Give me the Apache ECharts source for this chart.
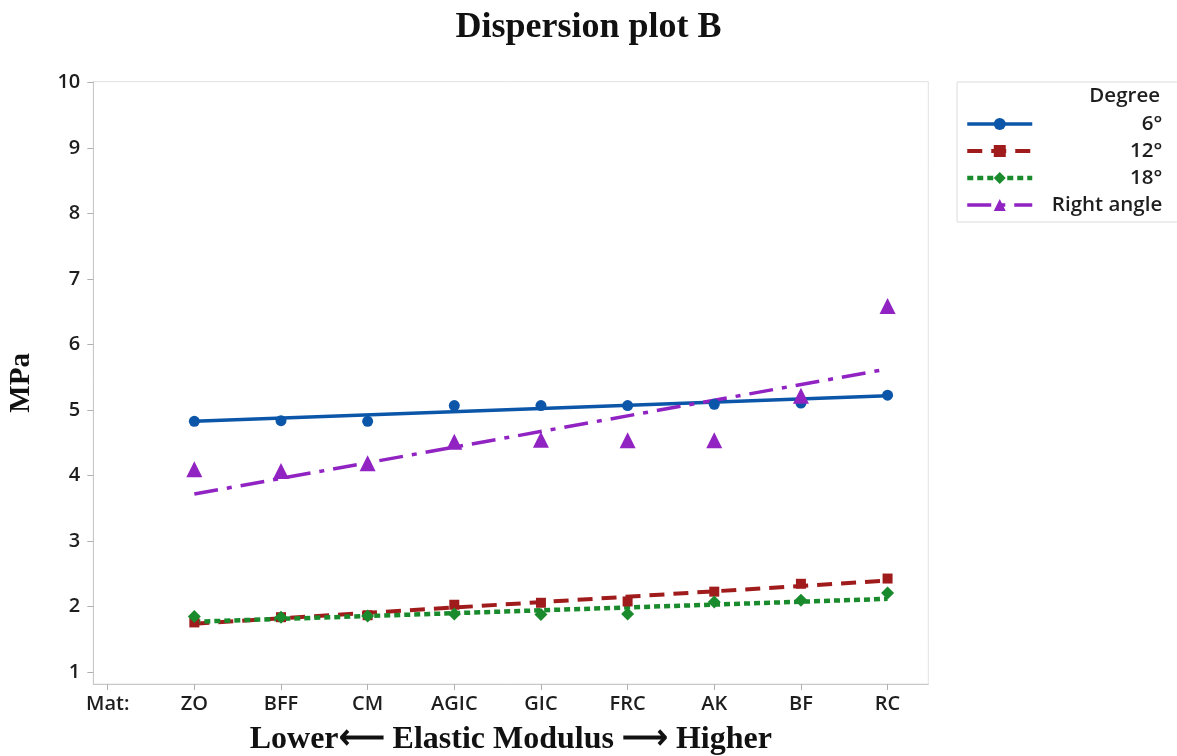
<!DOCTYPE html>
<html>
<head>
<meta charset="utf-8">
<script src="https://cdn.jsdelivr.net/npm/echarts@6/dist/echarts.min.js"></script>
<style>
html,body{margin:0;padding:0;background:#fff;}
#chart{width:1177px;height:756px;}
</style>
</head>
<body>
<div id="chart"></div>
<script>
// ---- data ----
var xLabels = ['Mat:', 'ZO', 'BFF', 'CM', 'AGIC', 'GIC', 'FRC', 'AK', 'BF', 'RC'];
var materials = ['ZO', 'BFF', 'CM', 'AGIC', 'GIC', 'FRC', 'AK', 'BF', 'RC'];
var yTicks = [1, 2, 3, 4, 5, 6, 7, 8, 9, 10];
var seriesNames = ['6°', '12°', '18°', 'Right angle'];
var deg6  = [4.83, 4.84, 4.83, 5.07, 5.07, 5.07, 5.09, 5.11, 5.23];
var deg12 = [1.76, 1.84, 1.87, 2.03, 2.06, 2.08, 2.23, 2.35, 2.43];
var deg18 = [1.85, 1.84, 1.86, 1.89, 1.88, 1.89, 2.07, 2.10, 2.21];
var right = [4.10, 4.07, 4.19, 4.52, 4.55, 4.54, 4.54, 5.22, 6.59];
// fitted lines: value at first (ZO) and last (RC) material
var fit6  = [4.83, 5.22];
var fit12 = [1.74, 2.40];
var fit18 = [1.77, 2.12];
var fitRight = [3.72, 5.63];

// ---- build ----
function pts(arr) {
  return arr.map(function (v, i) { return [xLabels.indexOf(materials[i]), v]; });
}
function fitPts(f) {
  return [[xLabels.indexOf(materials[0]), f[0]], [xLabels.indexOf(materials[materials.length - 1]), f[1]]];
}
var colors = ['#0b56a8', '#a01b1b', '#1a8b2c', '#9123c2'];
var symbols = ['circle', 'rect', 'diamond', 'triangle'];
var symSizes = [11, 10, 13, 16];
var lineTypes = ['solid', [15, 9], [6, 4], [24, 9, 5, 9]];
var lineWidths = [3.5, 4, 4.5, 3.5];
var pointSets = [deg6, deg12, deg18, right];
var fits = [fit6, fit12, fit18, fitRight];

var series = [];
seriesNames.forEach(function (name, k) {
  series.push({
    name: name,
    type: 'line',
    data: fitPts(fits[k]),
    showSymbol: false,
    symbol: symbols[k],
    color: colors[k],
    lineStyle: { color: colors[k], width: lineWidths[k], type: lineTypes[k] },
    itemStyle: { color: colors[k] },
    z: 2,
    silent: true
  });
  series.push({
    name: name + ' pts',
    type: 'scatter',
    data: pts(pointSets[k]),
    symbol: symbols[k],
    symbolSize: symSizes[k],
    itemStyle: { color: colors[k], opacity: 1 },
    z: 3
  });
});

var tickFont = { fontFamily: 'Open Sans', fontWeight: 600, fontSize: 20, color: '#1e1e1e' };

var chart = echarts.init(document.getElementById('chart'));
chart.setOption({
  backgroundColor: '#fff',
  animation: false,
  title: {
    text: 'Dispersion plot B',
    left: 'center',
    top: 5,
    textStyle: { fontFamily: 'Liberation Serif', fontWeight: 'bold', fontSize: 36, color: '#111' }
  },
  grid: {
    left: 93.3, right: 248.7, top: 81.7, bottom: 72,
    show: true, borderColor: '#e2e2e2', borderWidth: 1,
    containLabel: false, outerBoundsMode: 'none'
  },
  legend: {
    data: seriesNames,
    orient: 'vertical',
    left: 957, top: 82,
    padding: [31, 20, 6, 8],
    itemWidth: 65, itemHeight: 15, itemGap: 5,
    borderColor: '#dcdcdc', borderWidth: 1,
    selectedMode: false,
    lineStyle: { width: 'inherit' },
    formatter: function (n) { return '{a|' + n + '}'; },
    textStyle: {
      fontFamily: 'Open Sans', fontSize: 20.5, color: '#1e1e1e', lineHeight: 22,
      rich: { a: { width: 125, align: 'right', fontFamily: 'Open Sans', fontWeight: 600, fontSize: 20.5, lineHeight: 22, color: '#1e1e1e' } }
    }
  },
  graphic: [{
    type: 'text', right: 17, top: 86,
    style: { text: 'Degree', fontFamily: 'Open Sans', fontWeight: 600, fontSize: 20.5, fill: '#1e1e1e' }
  }],
  xAxis: {
    type: 'value',
    min: -0.166, max: 9.47,
    name: 'Lower\u27F5 Elastic Modulus \u27F6 Higher',
    nameLocation: 'middle',
    nameGap: 40,
    nameTextStyle: { fontFamily: 'Liberation Serif', fontWeight: 'bold', fontSize: 32, color: '#111' },
    splitLine: { show: false },
    axisLine: { show: true, onZero: false, lineStyle: { color: '#c8c8c8' } },
    axisTick: { show: true, length: 6, lineStyle: { color: '#b0b0b0' }, customValues: xLabels.map(function (s, i) { return i; }) },
    axisLabel: Object.assign({
      margin: 10,
      customValues: xLabels.map(function (s, i) { return i; }),
      formatter: function (v) { return xLabels[Math.round(v)]; }
    }, tickFont)
  },
  yAxis: {
    type: 'value',
    min: 0.82, max: 10.015,
    name: 'MPa',
    nameLocation: 'middle',
    nameGap: 57,
    nameTextStyle: { fontFamily: 'Liberation Serif', fontWeight: 'bold', fontSize: 29, color: '#111' },
    splitLine: { show: false },
    axisLine: { show: true, onZero: false, lineStyle: { color: '#c8c8c8' } },
    axisTick: { show: true, length: 6, lineStyle: { color: '#b0b0b0' }, customValues: yTicks },
    axisLabel: Object.assign({
      margin: 13,
      customValues: yTicks,
      formatter: function (v) { return String(Math.round(v)); }
    }, tickFont)
  },
  series: series
});
</script>
</body>
</html>
